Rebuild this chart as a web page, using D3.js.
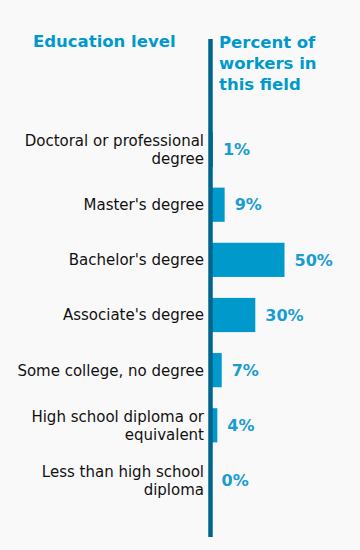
<!DOCTYPE html>
<html>
<head>
<meta charset="utf-8">
<script src="https://cdn.jsdelivr.net/npm/d3@7"></script>
<style>
    body { margin: 0; background: #f9f9f9; }
    svg { display: block; font-family: "DejaVu Sans", Verdana, sans-serif; }
</style>
</head>
<body>
<div id="chart"></div>
<script>

    // categories (label lines) and values, top to bottom
    var categories = [
        ["Doctoral or professional", "degree"],
        ["Master's degree"],
        ["Bachelor's degree"],
        ["Associate's degree"],
        ["Some college, no degree"],
        ["High school diploma or", "equivalent"],
        ["Less than high school", "diploma"]
    ];
    var values = [1, 9, 50, 30, 7, 4, 0];
    var valueLabels = ["1%", "9%", "50%", "30%", "7%", "4%", "0%"];
    var leftTitle = ["Education level"];
    var rightTitle = ["Percent of", "workers in", "this field"];

    var width = 360, height = 550;
    var axisX = 210.5;

    var svg = d3.select("#chart")
        .append("svg")
        .attr("width", width)
        .attr("height", height);

    svg.append("rect")
        .attr("width", width)
        .attr("height", height)
        .attr("fill", "#f9f9f9");

    var keys = categories.map(function (d, i) { return i; });

    var y = d3.scaleBand()
        .domain(keys)
        .range([122, 508])
        .paddingInner(0.38)
        .paddingOuter(0.19);

    var x = d3.scaleLinear()
        .domain([0, 50])
        .range([axisX + 1, axisX + 1 + 73]);

    // bars
    svg.append("g")
        .selectAll("rect")
        .data(values)
        .enter()
        .append("rect")
        .attr("x", x(0))
        .attr("y", function (d, i) { return y(i); })
        .attr("width", function (d) { return x(d) - x(0); })
        .attr("height", y.bandwidth())
        .attr("fill", "#0099cc");

    // value labels
    svg.append("g")
        .selectAll("text")
        .data(values)
        .enter()
        .append("text")
        .attr("x", function (d) { return x(d) + 10; })
        .attr("y", function (d, i) { return y(i) + y.bandwidth() / 2; })
        .attr("dy", "0.36em")
        .attr("font-size", 16)
        .attr("font-weight", "bold")
        .attr("fill", "#1a9cd2")
        .text(function (d, i) { return valueLabels[i]; });

    // category labels
    var lab = svg.append("g")
        .selectAll("text")
        .data(categories)
        .enter()
        .append("text")
        .attr("text-anchor", "end")
        .attr("font-size", 15)
        .attr("fill", "#111");
    lab.each(function (lines, i) {
        var cy = y(i) + y.bandwidth() / 2;
        var lh = 18;
        var top = cy - (lines.length - 1) * lh / 2;
        d3.select(this).selectAll("tspan")
            .data(lines)
            .enter()
            .append("tspan")
            .attr("x", 204)
            .attr("y", function (l, j) { return top + j * lh; })
            .attr("dy", "0.36em")
            .text(function (l) { return l; });
    });

    // axis line
    svg.append("line")
        .attr("x1", axisX).attr("x2", axisX)
        .attr("y1", 39).attr("y2", 537)
        .attr("stroke", "#00648c")
        .attr("stroke-width", 4.5);

    // titles
    svg.append("text")
        .attr("x", 33)
        .attr("y", 47)
        .attr("font-size", 16.5)
        .attr("font-weight", "bold")
        .attr("fill", "#0099cc")
        .text(leftTitle[0]);

    svg.append("text")
        .attr("font-size", 16.5)
        .attr("font-weight", "bold")
        .attr("fill", "#0099cc")
        .selectAll("tspan")
        .data(rightTitle)
        .enter()
        .append("tspan")
        .attr("x", 219)
        .attr("y", function (d, i) { return 48 + i * 21; })
        .text(function (d) { return d; });

</script>
</body>
</html>
